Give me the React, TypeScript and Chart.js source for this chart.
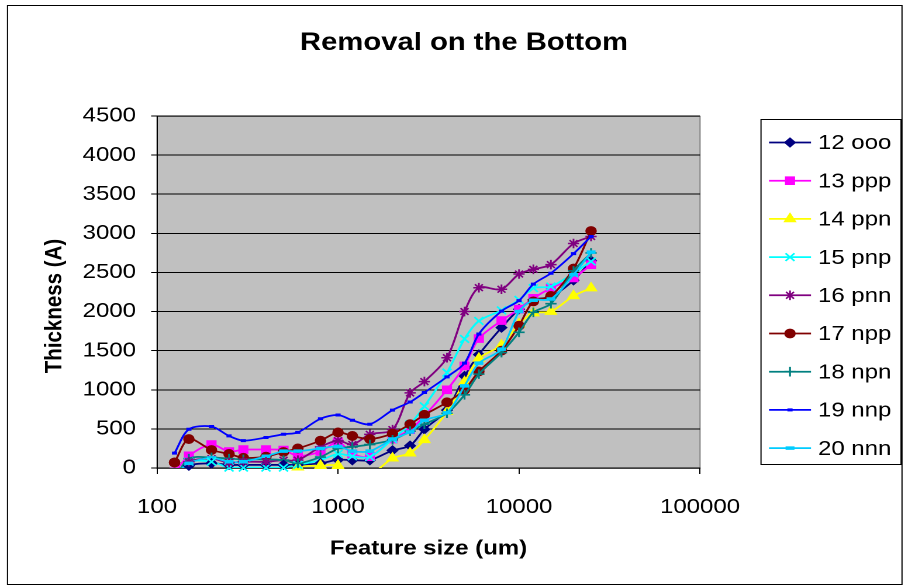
import React, { useEffect, useRef } from 'react';
import { Chart, registerables } from 'chart.js';
import { drawPoint } from 'chart.js/helpers';

Chart.register(...registerables);

// Feature sizes (um) shared by every run
const FEATURE_SIZE_UM = [125, 150, 200, 250, 300, 400, 500, 600, 800, 1000, 1200, 1500, 2000, 2500, 3000, 4000, 5000, 6000, 8000, 10000, 12000, 15000, 20000, 25000];

// Removed thickness (A) per run
const RUN_12_OOO = [-150, 30, 60, 40, 40, 40, 40, 40, 60, 105, 100, 100, 225, 285, 495, 740, 1175, 1450, 1795, 2030, 2150, 2190, 2400, 2650];
const RUN_13_PPP = [-50, 155, 300, 210, 235, 235, 230, 155, 210, 335, 180, 145, 370, 490, 665, 1000, 1305, 1655, 1885, 2030, 2170, 2300, 2430, 2600];
const RUN_14_PPN = [-400, -300, -250, -250, -250, -200, -100, 10, 30, 30, -90, -90, 125, 190, 360, 720, 1100, 1400, 1570, 1840, 1980, 2000, 2200, 2300];
const RUN_15_PNP = [-150, 80, 80, 5, 5, 5, 5, 40, 100, 180, 150, 140, 370, 560, 790, 1220, 1650, 1880, 2015, 2150, 2300, 2320, 2490, 2640];
const RUN_16_PNN = [-100, 80, 120, 70, 80, 80, 100, 100, 270, 350, 300, 430, 490, 960, 1105, 1410, 2000, 2305, 2285, 2480, 2540, 2600, 2870, 2960];
const RUN_17_NPP = [70, 370, 230, 180, 130, 145, 205, 250, 350, 455, 410, 370, 440, 560, 680, 840, 1000, 1235, 1500, 1820, 2130, 2200, 2550, 3030];
const RUN_18_NPN = [-150, 120, 135, 120, 110, 110, 100, 60, 140, 250, 270, 300, 360, 470, 560, 700, 935, 1200, 1475, 1735, 1990, 2100, 2520, 2750];
const RUN_19_NNP = [190, 495, 530, 410, 350, 390, 432, 455, 630, 678, 610, 560, 740, 843, 965, 1165, 1340, 1713, 2005, 2140, 2350, 2490, 2740, 2960];
const RUN_20_NNN = [-100, 60, 130, 80, 80, 150, 215, 215, 250, 275, 215, 215, 370, 460, 610, 705, 1050, 1340, 1520, 2000, 2145, 2160, 2470, 2760];

const SERIES_NAMES = ['12 ooo', '13 ppp', '14 ppn', '15 pnp', '16 pnn', '17 npp', '18 npn', '19 nnp', '20 nnn'];
const SERIES_VALUES = [RUN_12_OOO, RUN_13_PPP, RUN_14_PPN, RUN_15_PNP, RUN_16_PNN, RUN_17_NPP, RUN_18_NPN, RUN_19_NNP, RUN_20_NNN];

const X_TICKS = [100, 1000, 10000, 100000];
const Y_MIN = 0;
const Y_MAX = 4500;
const Y_STEP = 500;

const TITLE = 'Removal on the Bottom';
const X_TITLE = 'Feature size (um)';
const Y_TITLE = 'Thickness (A)';

// Marker look for each run
type Marker = { color: string; style: string; radius: number; border: number; filled: boolean };
const MARKERS: Marker[] = [
  { color: '#000080', style: 'rectRot', radius: 4.6, border: 1, filled: true },
  { color: '#FF00FF', style: 'rect', radius: 5.4, border: 1, filled: true },
  { color: '#FFFF00', style: 'triangle', radius: 5.6, border: 1, filled: true },
  { color: '#00FFFF', style: 'crossRot', radius: 5.4, border: 1.6, filled: false },
  { color: '#800080', style: 'star', radius: 4.8, border: 1.5, filled: false },
  { color: '#800000', style: 'circle', radius: 4.4, border: 1, filled: true },
  { color: '#008080', style: 'cross', radius: 4.8, border: 1.6, filled: false },
  { color: '#0000FF', style: 'line', radius: 2.2, border: 3, filled: true },
  { color: '#00CCFF', style: 'line', radius: 3.8, border: 3.5, filled: true },
];

// Canvas is drawn narrow and widened horizontally by CSS
const STRETCH = 1.1693;
const OUT_W = 905;
const OUT_H = 587;
const W = OUT_W / STRETCH;
const H = OUT_H;
const sx = (v: number) => v / STRETCH;

const PLOT = { left: sx(157), right: sx(700), top: 116, bottom: 468 };
const FONT = '"Liberation Sans", Arial, Helvetica, sans-serif';

const decorPlugin = {
  id: 'excelDecor',
  beforeDraw(chart: Chart) {
    const { ctx, chartArea: a } = chart;
    ctx.save();
    ctx.fillStyle = '#FFFFFF';
    ctx.fillRect(0, 0, chart.width, chart.height);
    ctx.fillStyle = '#C0C0C0';
    ctx.fillRect(a.left, a.top, a.right - a.left, a.bottom - a.top);
    ctx.strokeStyle = '#808080';
    ctx.lineWidth = 1;
    ctx.strokeRect(a.left, a.top + 0.5, a.right - a.left, a.bottom - a.top);
    ctx.restore();
  },
  afterDatasetsDraw(chart: Chart) {
    // markers sitting on the zero line are shown whole, not cut by the plot edge
    const { ctx, chartArea: a } = chart;
    chart.data.datasets.forEach((_, di) => {
      const meta = chart.getDatasetMeta(di);
      meta.data.forEach((pt: any) => {
        if (pt.y <= a.bottom + 0.5 && pt.y > a.bottom - 7) pt.draw(ctx);
      });
    });
  },
  afterDraw(chart: Chart) {
    const { ctx, chartArea: a } = chart;
    ctx.save();
    // outer frame
    ctx.strokeStyle = '#000000';
    ctx.lineWidth = 1;
    ctx.strokeRect(sx(7.5), 5.5, sx(902) - sx(7.5), 579);

    ctx.fillStyle = '#000000';
    ctx.textAlign = 'center';
    ctx.textBaseline = 'middle';
    ctx.font = `bold 25px ${FONT}`;
    ctx.fillText(TITLE, sx(464), 43);

    ctx.font = `bold 20.5px ${FONT}`;
    ctx.fillText(X_TITLE, (a.left + a.right) / 2, 549);
    ctx.save();
    ctx.translate(sx(55), 306);
    ctx.rotate(-Math.PI / 2);
    ctx.fillText(Y_TITLE, 0, 0);
    ctx.restore();

    // legend box
    const lx = sx(761), ly = 119.5, lw = sx(901) - sx(761), lh = 345;
    ctx.fillStyle = '#FFFFFF';
    ctx.fillRect(lx, ly, lw, lh);
    ctx.strokeStyle = '#000000';
    ctx.lineWidth = 1;
    ctx.strokeRect(lx, ly, lw, lh);
    ctx.font = `20.5px ${FONT}`;
    ctx.textAlign = 'left';
    SERIES_NAMES.forEach((name, i) => {
      const m = MARKERS[i];
      const y = 142.5 + i * 38.2;
      ctx.strokeStyle = m.color;
      ctx.lineWidth = 1.75;
      ctx.beginPath();
      ctx.moveTo(sx(769), y);
      ctx.lineTo(sx(811), y);
      ctx.stroke();
      ctx.fillStyle = m.color;
      ctx.lineWidth = m.border;
      drawPoint(ctx, { pointStyle: m.style as any, rotation: 0, radius: m.radius, borderWidth: m.border }, sx(790), y);
      ctx.fillStyle = '#000000';
      ctx.fillText(name, sx(818), y + 1);
    });
    ctx.restore();
  },
};

export default function App() {
  const canvasRef = useRef<HTMLCanvasElement>(null);

  useEffect(() => {
    const canvas = canvasRef.current;
    if (!canvas) return;
    const datasets = SERIES_NAMES.map((name, i) => {
      const m = MARKERS[i];
      return {
        label: name,
        data: FEATURE_SIZE_UM.map((x, j) => ({ x, y: SERIES_VALUES[i][j] })),
        borderColor: m.color,
        backgroundColor: m.color,
        borderWidth: 1.75,
        pointStyle: m.style as any,
        pointRadius: m.radius,
        pointBorderWidth: m.border,
        pointBackgroundColor: m.color,
        pointBorderColor: m.color,
        tension: 0.3,
        capBezierPoints: false,
        order: SERIES_NAMES.length - i,
      };
    });

    const chart = new Chart(canvas, {
      type: 'line',
      data: { datasets },
      plugins: [decorPlugin],
      options: {
        animation: false,
        responsive: true,
        maintainAspectRatio: false,
        devicePixelRatio: 2,
        events: [],
        layout: { padding: { top: PLOT.top, right: W - PLOT.right, bottom: 0, left: 0 } },
        plugins: {
          legend: { display: false },
          title: { display: false },
          tooltip: { enabled: false },
        },
        scales: {
          x: {
            type: 'logarithmic',
            min: 100,
            max: 100000,
            afterFit: (s: any) => { s.height = H - PLOT.bottom; },
            afterBuildTicks: (s: any) => { s.ticks = X_TICKS.map((v) => ({ value: v })); },
            grid: { display: true, drawOnChartArea: false, drawTicks: true, tickLength: 6, color: '#000000', lineWidth: 1 },
            border: { display: true, color: '#000000', width: 1 },
            ticks: {
              autoSkip: false,
              maxRotation: 0,
              padding: 21,
              color: '#000000',
              font: { family: FONT, size: 20.5 },
              callback: (v: any) => String(v),
            },
          },
          y: {
            type: 'linear',
            min: Y_MIN,
            max: Y_MAX,
            afterFit: (s: any) => { s.width = PLOT.left; },
            grid: { color: '#000000', lineWidth: 1, drawTicks: true, tickLength: 5 },
            border: { display: true, color: '#000000', width: 1 },
            ticks: {
              stepSize: Y_STEP,
              padding: 13,
              color: '#000000',
              font: { family: FONT, size: 20.5 },
              callback: (v: any) => String(v),
            },
          },
        },
      },
    });
    return () => chart.destroy();
  }, []);

  return (
    <div style={{ position: 'absolute', left: 0, top: 0, width: OUT_W, height: OUT_H, overflow: 'hidden', background: '#FFFFFF' }}>
      <div style={{ width: W, height: H, transform: `scaleX(${STRETCH})`, transformOrigin: '0 0' }}>
        <canvas ref={canvasRef} />
      </div>
    </div>
  );
}
